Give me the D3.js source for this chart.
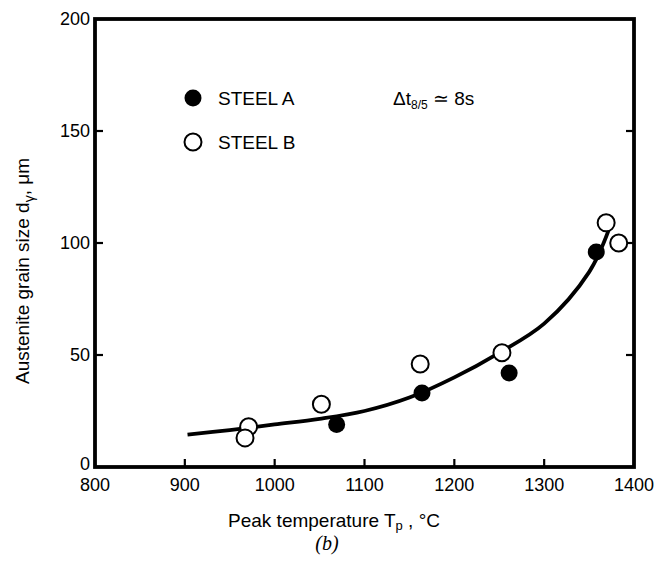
<!DOCTYPE html>
<html>
<head>
<meta charset="utf-8">
<script src="https://cdn.jsdelivr.net/npm/d3@7"></script>
<style>
  html, body { margin: 0; padding: 0; background: #fff; }
  svg { display: block; }
  text { font-family: "Liberation Sans", Arial, sans-serif; fill: #000; }
</style>
</head>
<body>
<svg id="chart" width="669" height="572"></svg>
<script>
// Measured austenite grain size vs. peak temperature
const steelA = [
  [1069, 19], [1164, 33], [1261, 42], [1358, 96]
];
const steelB = [
  [971, 18], [967, 13], [1052, 28], [1162, 46], [1253, 51], [1369, 109], [1383, 100]
];
// Fitted trend curve
const fitCurve = [
  [903, 14.5], [950, 16.5], [1000, 19], [1050, 21.5], [1100, 25], [1150, 31],
  [1200, 40], [1250, 51], [1300, 64], [1350, 87], [1372, 106]
];
const xTicks = [800, 900, 1000, 1100, 1200, 1300, 1400];
const yTicks = [0, 50, 100, 150, 200];

const svg = d3.select("#chart");
const plotL = 95, plotR = 634, plotT = 19, plotB = 467;

const x = d3.scaleLinear().domain([800, 1400]).range([plotL, plotR]);
const y = d3.scaleLinear().domain([0, 200]).range([plotB, plotT]);

// Inward tick marks
const tickLen = 8;
svg.append("g").selectAll("line")
  .data(xTicks.slice(1, -1))
  .join("line")
  .attr("x1", d => x(d)).attr("x2", d => x(d))
  .attr("y1", plotB).attr("y2", plotB - tickLen)
  .attr("stroke", "#000").attr("stroke-width", 2.2);
svg.append("g").selectAll("line")
  .data(yTicks.slice(1, -1))
  .join("line")
  .attr("x1", plotR).attr("x2", plotR - tickLen)
  .attr("y1", d => y(d)).attr("y2", d => y(d))
  .attr("stroke", "#000").attr("stroke-width", 2.2);
svg.append("g").selectAll("line")
  .data(yTicks.slice(1, -1))
  .join("line")
  .attr("x1", plotL).attr("x2", plotL + tickLen)
  .attr("y1", d => y(d)).attr("y2", d => y(d))
  .attr("stroke", "#000").attr("stroke-width", 2.2);

// Frame
svg.append("rect")
  .attr("x", plotL).attr("y", plotT)
  .attr("width", plotR - plotL).attr("height", plotB - plotT)
  .attr("fill", "none").attr("stroke", "#000").attr("stroke-width", 3.8);

// Tick labels
svg.append("g").selectAll("text")
  .data(xTicks)
  .join("text")
  .attr("x", d => x(d)).attr("y", plotB + 24)
  .attr("text-anchor", "middle")
  .attr("font-size", 18)
  .text(d => d);
svg.append("g").selectAll("text")
  .data(yTicks)
  .join("text")
  .attr("x", plotL - 5).attr("y", d => d === 0 ? y(d) + 3 : y(d) + 6)
  .attr("text-anchor", "end")
  .attr("font-size", 18)
  .text(d => d);

// Trend curve
const line = d3.line()
  .x(d => x(d[0])).y(d => y(d[1]))
  .curve(d3.curveCatmullRom.alpha(0.5));
svg.append("path")
  .datum(fitCurve)
  .attr("d", line)
  .attr("fill", "none").attr("stroke", "#000").attr("stroke-width", 3.8);

// Data points
const r = 8.5;
svg.append("g").selectAll("circle")
  .data(steelB)
  .join("circle")
  .attr("cx", d => x(d[0])).attr("cy", d => y(d[1])).attr("r", r)
  .attr("fill", "#fff").attr("stroke", "#000").attr("stroke-width", 2);
svg.append("g").selectAll("circle")
  .data(steelA)
  .join("circle")
  .attr("cx", d => x(d[0])).attr("cy", d => y(d[1])).attr("r", r)
  .attr("fill", "#000");

// Legend
svg.append("circle").attr("cx", 193).attr("cy", 98).attr("r", r).attr("fill", "#000");
svg.append("text").attr("x", 218).attr("y", 105).attr("font-size", 19).text("STEEL A");
svg.append("circle").attr("cx", 193).attr("cy", 142).attr("r", r)
  .attr("fill", "#fff").attr("stroke", "#000").attr("stroke-width", 2);
svg.append("text").attr("x", 218).attr("y", 149).attr("font-size", 19).text("STEEL B");

const dt = svg.append("text").attr("x", 393).attr("y", 105).attr("font-size", 19);
dt.append("tspan").text("Δt");
dt.append("tspan").attr("font-size", 12).attr("dy", 4).text("8/5");
dt.append("tspan").attr("dy", -4).text(" ≃ 8s");

// Axis titles
const yl = svg.append("text")
  .attr("transform", "translate(29,271) rotate(-90)")
  .attr("text-anchor", "middle")
  .attr("font-size", 19);
yl.append("tspan").text("Austenite grain size d");
yl.append("tspan").attr("font-size", 14).attr("dy", 5).text("γ");
yl.append("tspan").attr("dy", -5).text(", μm");

const xl = svg.append("text")
  .attr("x", 334).attr("y", 527)
  .attr("text-anchor", "middle")
  .attr("font-size", 19);
xl.append("tspan").text("Peak temperature T");
xl.append("tspan").attr("font-size", 13).attr("dy", 3).text("p");
xl.append("tspan").attr("dy", -3).text(" , °C");

svg.append("text")
  .attr("x", 327).attr("y", 550)
  .attr("text-anchor", "middle")
  .style("font-family", "'Liberation Serif', 'Times New Roman', serif")
  .attr("font-style", "italic")
  .attr("font-size", 20)
  .text("(b)");
</script>
</body>
</html>
